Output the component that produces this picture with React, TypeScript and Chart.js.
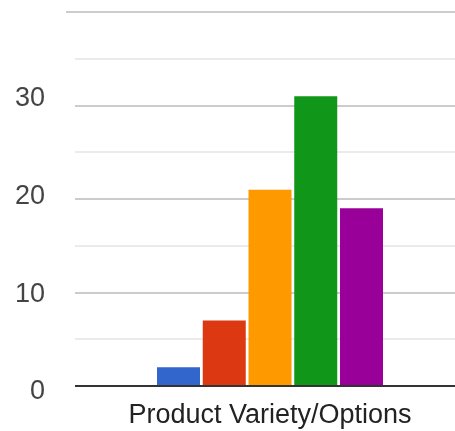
import { useEffect, useRef } from "react";
import { Chart, registerables } from "chart.js";

Chart.register(...registerables);

const CATEGORIES = ["Product Variety/Options"];
const SERIES_NAMES = ["Series 1", "Series 2", "Series 3", "Series 4", "Series 5"];
const SERIES_VALUES = [2, 7, 21, 31, 19];
const SERIES_COLORS = ["#3366cc", "#dc3912", "#ff9900", "#109618", "#990099"];
const Y_TICK_LABELS = [0, 10, 20, 30];
const Y_MAX = 40;
const Y_STEP = 5;

export default function App() {
  const ref = useRef<HTMLCanvasElement>(null);

  useEffect(() => {
    document.body.style.margin = "0";
    document.body.style.overflow = "hidden";
    document.documentElement.style.overflow = "hidden";
    const font = { family: "'Liberation Sans', Arial, sans-serif", size: 27 };
    const chart = new Chart(ref.current!, {
      type: "bar",
      data: {
        labels: CATEGORIES,
        datasets: SERIES_NAMES.map((name, i) => ({
          label: name,
          data: [SERIES_VALUES[i]],
          backgroundColor: SERIES_COLORS[i],
          borderWidth: 0,
          categoryPercentage: 0.5865,
          barPercentage: 0.94,
          yAxisID: "y",
        })),
      },
      options: {
        responsive: false,
        animation: false,
        layout: { padding: { left: 15, top: 12, right: 0, bottom: 0 } },
        plugins: { legend: { display: false }, tooltip: { enabled: false } },
        scales: {
          x: {
            grid: { display: false, drawTicks: false },
            border: { display: false },
            ticks: { font, color: "#222222", padding: 13 },
            afterFit: (s: any) => {
              s.height = 45;
            },
          },
          y: {
            position: "left",
            weight: 0,
            min: 0,
            max: Y_MAX,
            ticks: { display: false, stepSize: Y_STEP },
            grid: {
              color: (ctx: any) =>
                ctx.tick.value === 0 ? "#333333" : ctx.tick.value % 10 === 0 ? "#cccccc" : "#ebebeb",
              lineWidth: 2,
              drawTicks: true,
              tickLength: 9,
              tickWidth: 2,
              tickColor: (ctx: any) => (ctx.tick.value === Y_MAX ? "#cccccc" : "rgba(0,0,0,0)"),
            },
            border: { display: false },
            afterFit: (s: any) => {
              s.width = 9;
            },
          },
          yl: {
            position: "left",
            weight: 1,
            min: 0.614,
            max: 38.89,
            grid: { display: false, drawTicks: false },
            border: { display: false },
            ticks: { font, color: "#444444", padding: 21, callback: (v: any) => String(v) },
            afterBuildTicks: (s: any) => {
              s.ticks = Y_TICK_LABELS.map((v) => ({ value: v }));
            },
            afterFit: (s: any) => {
              s.width = 51;
              s.paddingTop = 0;
              s.paddingBottom = 0;
            },
          },
        },
      } as any,
    });
    return () => chart.destroy();
  }, []);

  return <canvas ref={ref} width={465} height={431} style={{ display: "block" }} />;
}
